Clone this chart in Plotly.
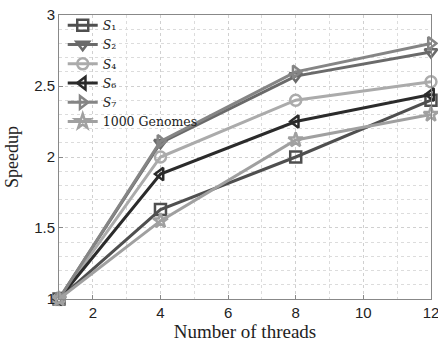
import plotly.graph_objects as go

threads = [1, 4, 8, 12]
s1 = [1.0, 1.63, 2.0, 2.4]
s2 = [1.0, 2.10, 2.57, 2.74]
s4 = [1.0, 2.0, 2.40, 2.53]
s6 = [1.0, 1.88, 2.25, 2.44]
s7 = [1.0, 2.11, 2.60, 2.80]
g1000 = [1.0, 1.55, 2.12, 2.30]

names = ["<i>S</i>₁", "<i>S</i>₂", "<i>S</i>₄",
         "<i>S</i>₆", "<i>S</i>₇", "1000 Genomes"]
series = [s1, s2, s4, s6, s7, g1000]
colors = ["#4f4f4f", "#6a6a6a", "#ababab", "#2b2b2b", "#858585", "#a0a0a0"]
symbols = ["square-open", "triangle-down-open", "circle-open",
           "triangle-left-open", "triangle-right-open", "star-open"]

fig = go.Figure()
for nm, ys, c, sym in zip(names, series, colors, symbols):
    fig.add_trace(go.Scatter(
        x=threads, y=ys, name=nm, mode="lines+markers",
        line=dict(color=c, width=3),
        marker=dict(symbol=sym, size=11, color=c, line=dict(color=c, width=2.5)),
        cliponaxis=False,
    ))

axis_common = dict(
    showline=True, linecolor="#888", linewidth=1, mirror=True,
    ticks="inside", ticklen=4, tickcolor="#888",
    showgrid=True, gridcolor="#d0d0d0", griddash="dot", gridwidth=1,
    zeroline=False, ticklabeloverflow="allow", automargin=False,
    tickfont=dict(family="Liberation Sans, Arial", size=15, color="#222"),
)
fig.update_layout(
    width=438, height=346,
    margin=dict(l=59, r=7, t=15, b=47),
    paper_bgcolor="white", plot_bgcolor="white",
    showlegend=True,
    legend=dict(x=0.01, y=1.015, xanchor="left", yanchor="top",
                bgcolor="rgba(255,255,255,0)", borderwidth=0,
                font=dict(family="DejaVu Serif, Liberation Serif", size=12.5, color="#222"),
                tracegroupgap=0, itemwidth=30),
    xaxis=dict(range=[0.999, 12.001], tickvals=[2, 4, 6, 8, 10, 12],
               minor=dict(dtick=1, tick0=0, showgrid=True, gridcolor="#dcdcdc", griddash="dot", ticks=""),
               title=dict(text="Number of threads", standoff=4,
                          font=dict(family="Liberation Serif, DejaVu Serif", size=19, color="#222")),
               **axis_common),
    yaxis=dict(range=[0.9995, 3.0005], tickvals=[1, 1.5, 2, 2.5, 3], ticktext=["1", "1.5", "2", "2.5", "3"],
               minor=dict(dtick=0.1, tick0=0, showgrid=True, gridcolor="#dcdcdc", griddash="dot", ticks=""),
               title=dict(text="Speedup", standoff=10,
                          font=dict(family="Liberation Serif, DejaVu Serif", size=18, color="#222")),
               **axis_common),
)
fig.write_html("out.html")
